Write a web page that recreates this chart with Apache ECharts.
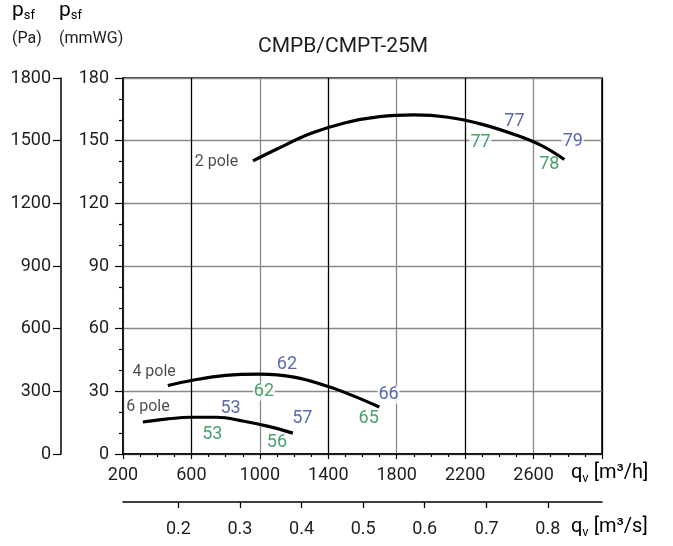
<!DOCTYPE html>
<html>
<head>
<meta charset="utf-8">
<script src="https://cdn.jsdelivr.net/npm/echarts@6/dist/echarts.min.js"></script>
<style>
html, body { margin: 0; padding: 0; background: #fff; }
#chart { width: 673px; height: 546px; }
</style>
</head>
<body>
<div id="chart"></div>
<script>
// fan curves, x in m3/h, y in mmWG
var pole2 = [[960, 140.3], [1100, 146], [1300, 153.5], [1500, 158.6], [1700, 161.5], [1900, 162.3], [2100, 161.2], [2300, 157.8], [2500, 152.6], [2650, 147.5], [2780, 141]];
var pole4 = [[462, 32.8], [600, 35.2], [800, 37.6], [1000, 38.2], [1200, 36.8], [1400, 32.3], [1550, 27.7], [1698, 22.5]];
var pole6 = [[316, 15.3], [450, 16.7], [600, 17.6], [750, 17.6], [900, 15.8], [1050, 13.2], [1193, 10.0]];

var poleNames = ['2 pole', '4 pole', '6 pole'];
var poleLabelAt = [[746, 139.7], [382, 39.2], [346, 22.3]];

// blue / green numbers on the curves
var blueText = ['77', '79', '62', '66', '53', '57'];
var blueAt = [[2488, 159.3], [2829, 149.8], [1158, 42.7], [1752, 28.3], [829, 22.0], [1248, 16.9]];
var greenText = ['77', '78', '62', '65', '53', '56'];
var greenAt = [[2290, 149.1], [2692, 138.8], [1024, 29.9], [1636, 16.9], [722, 9.2], [1100, 5.3]];

// second flow scale in m3/s
var secTicks = [0.2, 0.3, 0.4, 0.5, 0.6, 0.7, 0.8];

var font = 'Roboto';
var ink = '#1e1e1e';
var blue = '#32439a';
var green = '#1d8848';

function plain(v) { return String(v); }

function numLabels(name, at, texts, color) {
	return {
		name: name,
		type: 'scatter',
		data: at,
		symbolSize: 1,
		itemStyle: { color: 'transparent' },
		z: 4,
		label: {
			show: true,
			position: 'inside',
			fontFamily: font,
			fontSize: 18,
			color: color,
			backgroundColor: '#fff',
			padding: [0, 1],
			formatter: function (p) { return texts[p.dataIndex]; }
		}
	};
}

function curve(name, d) {
	return {
		name: name,
		type: 'line',
		data: d,
		smooth: 0.4,
		symbol: 'none',
		z: 5,
		lineStyle: { color: '#000', width: 3.2 }
	};
}

var psfRich = {
	a: { fontFamily: font, fontSize: 21, color: ink, lineHeight: 24 },
	b: { fontFamily: font, fontSize: 13, color: ink, lineHeight: 24, verticalAlign: 'bottom', padding: [6, 0, 0, 0] }
};
var unitRich = {
	a: { fontFamily: font, fontSize: 20, color: ink, lineHeight: 24 },
	b: { fontFamily: font, fontSize: 13, color: ink, lineHeight: 24, verticalAlign: 'bottom', padding: [7, 0, 0, 0] }
};

var option = {
	animation: false,
	title: {
		text: 'CMPB/CMPT-25M',
		left: 253,
		top: 31,
		textStyle: { fontFamily: font, fontSize: 21, fontWeight: 'normal', color: ink }
	},
	grid: {
		left: 123, right: 71, top: 78, bottom: 92,
		show: true, borderColor: '#000', borderWidth: 1.5
	},
	xAxis: [{
		type: 'value',
		min: 200, max: 3000, interval: 400,
		position: 'bottom',
		axisLine: { lineStyle: { color: '#000', width: 1.5 } },
		axisTick: { length: 5, lineStyle: { color: '#000', width: 1.2 } },
		minorTick: { show: true, splitNumber: 4, length: 3, lineStyle: { color: '#000', width: 1.2 } },
		axisLabel: { fontFamily: font, fontSize: 18, color: ink, margin: 12, showMaxLabel: false, formatter: plain },
		splitLine: { show: true, lineStyle: { color: ['#888', '#000'], width: 1.3 } }
	}, {
		type: 'value',
		min: 0.11, max: 0.888,
		position: 'bottom',
		offset: 48,
		axisLine: { onZero: false, lineStyle: { color: '#000', width: 1.5 } },
		axisTick: { length: 6, customValues: secTicks, lineStyle: { color: '#000', width: 1.3 } },
		axisLabel: { fontFamily: font, fontSize: 18, color: ink, margin: 18, customValues: secTicks, formatter: plain },
		splitLine: { show: false }
	}],
	yAxis: [{
		type: 'value',
		min: 0, max: 180, interval: 30,
		position: 'left',
		axisLine: { show: true, lineStyle: { color: '#000', width: 1.5 } },
		axisTick: { show: true, length: 8, lineStyle: { color: '#000', width: 1.2 } },
		minorTick: { show: true, splitNumber: 3, length: 4, lineStyle: { color: '#000', width: 1.2 } },
		axisLabel: { fontFamily: font, fontSize: 18, color: ink, margin: 14, formatter: plain },
		splitLine: { show: true, lineStyle: { color: '#888', width: 1.3 } }
	}, {
		type: 'value',
		min: 0, max: 1800, interval: 300,
		position: 'left',
		offset: 62,
		axisLine: { show: true, lineStyle: { color: '#000', width: 1.5 } },
		axisTick: { show: true, length: 8, lineStyle: { color: '#000', width: 1.2 } },
		axisLabel: { fontFamily: font, fontSize: 18, color: ink, margin: 10, formatter: plain },
		splitLine: { show: false }
	}],
	graphic: [
		{ type: 'text', left: 12, top: 0, style: { text: '{a|p}{b|sf}', rich: psfRich } },
		{ type: 'text', left: 59, top: 0, style: { text: '{a|p}{b|sf}', rich: psfRich } },
		{ type: 'text', left: 12, top: 31, style: { text: '(Pa)', fontFamily: font, fontSize: 16, fill: ink } },
		{ type: 'text', left: 59, top: 31, style: { text: '(mmWG)', fontFamily: font, fontSize: 16, fill: ink } },
		{ type: 'text', left: 571, top: 463, style: { text: '{a|q}{b|v}{a| [m³/h]}', rich: unitRich } },
		{ type: 'text', left: 571, top: 517, style: { text: '{a|q}{b|v}{a| [m³/s]}', rich: unitRich } }
	],
	series: [
		curve('2 pole', pole2),
		curve('4 pole', pole4),
		curve('6 pole', pole6),
		{
			name: 'pole labels',
			type: 'scatter',
			data: poleLabelAt,
			symbolSize: 1,
			itemStyle: { color: 'transparent' },
			label: {
				show: true,
				position: 'inside',
				fontFamily: font,
				fontSize: 16,
				color: ink,
				formatter: function (p) { return poleNames[p.dataIndex]; }
			}
		},
		numLabels('blue', blueAt, blueText, blue),
		numLabels('green', greenAt, greenText, green)
	]
};

var myChart = echarts.init(document.getElementById('chart'));
myChart.setOption(option);
</script>
</body>
</html>
